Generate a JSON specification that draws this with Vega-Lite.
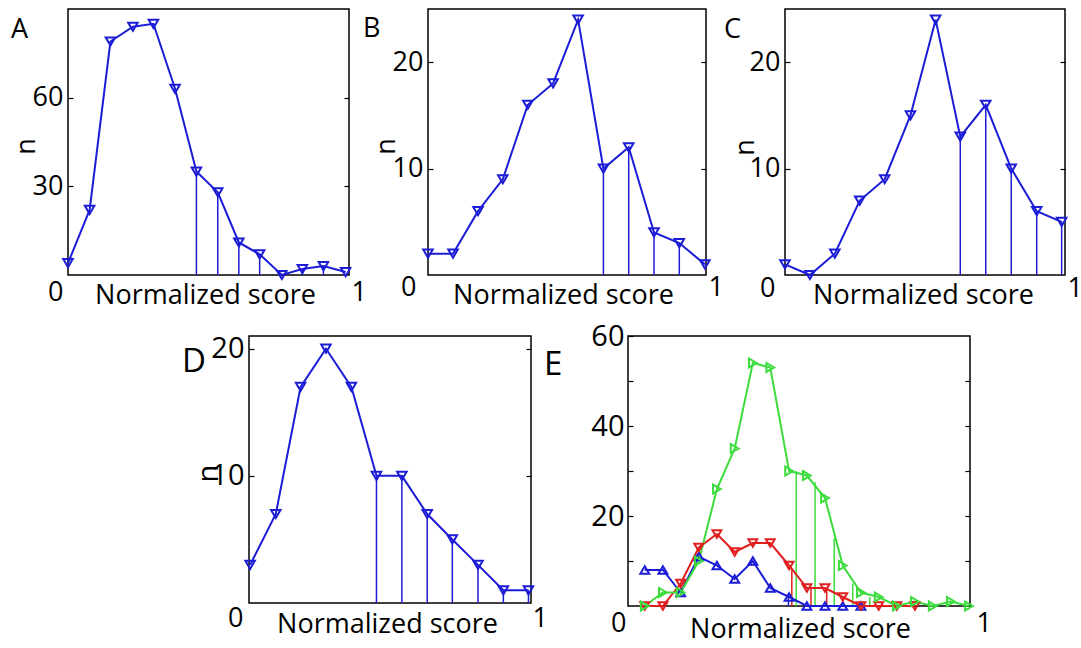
{
  "$schema": "https://vega.github.io/schema/vega-lite/v6.json",
  "autosize": {"type": "pad"},
  "padding": {"left": 10, "top": 8, "right": 0, "bottom": 0},
  "background": "white",
  "config": {
    "font": "Open Sans",
    "view": {"stroke": "black", "strokeWidth": 1.5},
    "axis": {"grid": false, "domain": false, "labelFont": "Open Sans", "titleFont": "Open Sans", "labelColor": "black", "titleColor": "black", "tickColor": "black", "tickWidth": 1.2, "labelFontSize": 27, "titleFontSize": 27, "titleFontWeight": "normal", "labelOverlap": false, "format": "d"},
    "title": {"font": "Open Sans", "fontSize": 27, "fontWeight": "normal", "anchor": "start", "frame": "group", "baseline": "alphabetic", "offset": 0, "color": "black"}
  },
  "datasets": {
    "A": [
      {"x": 0.0, "n": 4}, {"x": 0.077, "n": 22}, {"x": 0.151, "n": 79}, {"x": 0.231, "n": 84},
      {"x": 0.304, "n": 85}, {"x": 0.381, "n": 63}, {"x": 0.457, "n": 35}, {"x": 0.533, "n": 28},
      {"x": 0.608, "n": 11}, {"x": 0.682, "n": 7}, {"x": 0.761, "n": 0}, {"x": 0.834, "n": 2},
      {"x": 0.909, "n": 3}, {"x": 0.988, "n": 1}
    ],
    "Adrop": [
      {"x": 0.457, "n": 35}, {"x": 0.533, "n": 28}, {"x": 0.608, "n": 11}, {"x": 0.682, "n": 7},
      {"x": 0.834, "n": 2}, {"x": 0.909, "n": 3}
    ],
    "B": [
      {"x": 0.0, "n": 2}, {"x": 0.09, "n": 2}, {"x": 0.18, "n": 6}, {"x": 0.269, "n": 9},
      {"x": 0.359, "n": 16}, {"x": 0.45, "n": 18}, {"x": 0.54, "n": 24}, {"x": 0.631, "n": 10},
      {"x": 0.722, "n": 12}, {"x": 0.813, "n": 4}, {"x": 0.904, "n": 3}, {"x": 0.996, "n": 1}
    ],
    "Bdrop": [
      {"x": 0.631, "n": 10}, {"x": 0.722, "n": 12}, {"x": 0.813, "n": 4}, {"x": 0.904, "n": 3}
    ],
    "C": [
      {"x": 0.0, "n": 1}, {"x": 0.089, "n": 0}, {"x": 0.178, "n": 2}, {"x": 0.267, "n": 7},
      {"x": 0.356, "n": 9}, {"x": 0.448, "n": 15}, {"x": 0.538, "n": 24}, {"x": 0.626, "n": 13},
      {"x": 0.717, "n": 16}, {"x": 0.808, "n": 10}, {"x": 0.899, "n": 6}, {"x": 0.988, "n": 5}
    ],
    "Cdrop": [
      {"x": 0.626, "n": 13}, {"x": 0.717, "n": 16}, {"x": 0.808, "n": 10}, {"x": 0.899, "n": 6}, {"x": 0.988, "n": 5}
    ],
    "D": [
      {"x": 0.004, "n": 3}, {"x": 0.095, "n": 7}, {"x": 0.183, "n": 17}, {"x": 0.273, "n": 20},
      {"x": 0.363, "n": 17}, {"x": 0.452, "n": 10}, {"x": 0.542, "n": 10}, {"x": 0.632, "n": 7},
      {"x": 0.721, "n": 5}, {"x": 0.812, "n": 3}, {"x": 0.902, "n": 1}, {"x": 0.991, "n": 1}
    ],
    "Ddrop": [
      {"x": 0.452, "n": 10}, {"x": 0.542, "n": 10}, {"x": 0.632, "n": 7}, {"x": 0.721, "n": 5},
      {"x": 0.812, "n": 3}, {"x": 0.902, "n": 1}, {"x": 0.991, "n": 1}
    ],
    "E": [
      {"s": "blue", "x": 0.049, "n": 8}, {"s": "blue", "x": 0.102, "n": 8}, {"s": "blue", "x": 0.154, "n": 3},
      {"s": "blue", "x": 0.207, "n": 11}, {"s": "blue", "x": 0.26, "n": 9}, {"s": "blue", "x": 0.312, "n": 6},
      {"s": "blue", "x": 0.365, "n": 10}, {"s": "blue", "x": 0.416, "n": 4}, {"s": "blue", "x": 0.471, "n": 2},
      {"s": "blue", "x": 0.523, "n": 0}, {"s": "blue", "x": 0.576, "n": 0}, {"s": "blue", "x": 0.628, "n": 0},
      {"s": "blue", "x": 0.681, "n": 0},
      {"s": "red", "x": 0.049, "n": 0}, {"s": "red", "x": 0.102, "n": 0}, {"s": "red", "x": 0.154, "n": 5},
      {"s": "red", "x": 0.207, "n": 13}, {"s": "red", "x": 0.26, "n": 16}, {"s": "red", "x": 0.312, "n": 12},
      {"s": "red", "x": 0.365, "n": 14}, {"s": "red", "x": 0.416, "n": 14}, {"s": "red", "x": 0.471, "n": 9},
      {"s": "red", "x": 0.523, "n": 4}, {"s": "red", "x": 0.576, "n": 4}, {"s": "red", "x": 0.628, "n": 2},
      {"s": "red", "x": 0.681, "n": 0}, {"s": "red", "x": 0.733, "n": 0}, {"s": "red", "x": 0.786, "n": 0},
      {"s": "red", "x": 0.839, "n": 0},
      {"s": "green", "x": 0.049, "n": 0}, {"s": "green", "x": 0.102, "n": 3}, {"s": "green", "x": 0.154, "n": 3},
      {"s": "green", "x": 0.207, "n": 10}, {"s": "green", "x": 0.26, "n": 26}, {"s": "green", "x": 0.312, "n": 35},
      {"s": "green", "x": 0.365, "n": 54}, {"s": "green", "x": 0.416, "n": 53}, {"s": "green", "x": 0.471, "n": 30},
      {"s": "green", "x": 0.523, "n": 29}, {"s": "green", "x": 0.576, "n": 24}, {"s": "green", "x": 0.628, "n": 9},
      {"s": "green", "x": 0.681, "n": 3}, {"s": "green", "x": 0.733, "n": 2}, {"s": "green", "x": 0.786, "n": 0},
      {"s": "green", "x": 0.839, "n": 1}, {"s": "green", "x": 0.891, "n": 0}, {"s": "green", "x": 0.944, "n": 1},
      {"s": "green", "x": 0.997, "n": 0}
    ],
    "Edrop": [
      {"s": "blue", "x": 0.469, "n": 2.5},
      {"s": "red", "x": 0.479, "n": 8}, {"s": "red", "x": 0.535, "n": 4}, {"s": "red", "x": 0.581, "n": 4},
      {"s": "green", "x": 0.492, "n": 30}, {"s": "green", "x": 0.547, "n": 27.5}, {"s": "green", "x": 0.603, "n": 15},
      {"s": "green", "x": 0.657, "n": 5}, {"s": "green", "x": 0.707, "n": 2}
    ]
  },
  "vconcat": [
    {
      "bounds": "flush",
      "spacing": 79,
      "hconcat": [
        {
          "width": 281, "height": 266,
          "title": {"text": "A", "dx": -57, "dy": 39},
          "encoding": {"x": {"field": "x", "type": "quantitative", "scale": {"domain": [0, 1], "nice": false, "zero": false},
            "axis": {"values": [0, 1], "ticks": false, "labelBaseline": "alphabetic", "labelPadding": 25,
              "labelAlign": {"condition": {"test": "datum.value == 0", "value": "right"}, "value": "left"},
              "labelOffset": {"condition": {"test": "datum.value == 0", "value": -5}, "value": 2},
              "title": "Normalized score", "titleX": 137, "titleY": 28, "titleBaseline": "alphabetic", "titleAlign": "center"}}},
          "layer": [
            {"data": {"name": "Adrop"}, "mark": {"type": "rule", "color": "#1c1cd6", "strokeWidth": 1.5},
             "encoding": {"y": {"field": "n", "type": "quantitative", "scale": {"domain": [0, 90], "nice": false}, "axis": null}, "y2": {"datum": 0}}},
            {"data": {"name": "A"}, "mark": {"type": "line", "color": "#1c1cd6", "strokeWidth": 2},
             "encoding": {"y": {"field": "n", "type": "quantitative", "scale": {"domain": [0, 90], "nice": false},
               "axis": {"values": [30, 60], "tickSize": -5, "labelPadding": 10, "title": "n", "titleX": -42, "titleY": 137, "titleAngle": -90, "titleBaseline": "middle", "titleAlign": "center", "titleFontSize": 27}}}},
            {"data": {"name": "A"}, "mark": {"type": "point", "shape": "triangle-down", "filled": false, "color": "#1c1cd6", "size": 90, "strokeWidth": 2, "opacity": 1},
             "encoding": {"y": {"field": "n", "type": "quantitative", "scale": {"domain": [0, 90], "nice": false},
               "axis": {"orient": "right", "values": [30, 60], "labels": false, "tickSize": -5, "title": null}}}}
          ],
          "resolve": {"axis": {"y": "independent"}}
        },
        {
          "width": 278, "height": 266,
          "title": {"text": "B", "dx": -65, "dy": 38},
          "encoding": {"x": {"field": "x", "type": "quantitative", "scale": {"domain": [0, 1], "nice": false, "zero": false},
            "axis": {"values": [0, 1], "ticks": false, "labelBaseline": "alphabetic", "labelPadding": 20,
              "labelAlign": {"condition": {"test": "datum.value == 0", "value": "right"}, "value": "left"},
              "labelOffset": {"condition": {"test": "datum.value == 0", "value": -12}, "value": 2},
              "title": "Normalized score", "titleX": 135, "titleY": 28, "titleBaseline": "alphabetic", "titleAlign": "center"}}},
          "layer": [
            {"data": {"name": "Bdrop"}, "mark": {"type": "rule", "color": "#1c1cd6", "strokeWidth": 1.5},
             "encoding": {"y": {"field": "n", "type": "quantitative", "scale": {"domain": [0, 25], "nice": false}, "axis": null}, "y2": {"datum": 0}}},
            {"data": {"name": "B"}, "mark": {"type": "line", "color": "#1c1cd6", "strokeWidth": 2},
             "encoding": {"y": {"field": "n", "type": "quantitative", "scale": {"domain": [0, 25], "nice": false},
               "axis": {"values": [10, 20], "tickSize": -5, "labelPadding": 10, "title": "n", "titleX": -42, "titleY": 137, "titleAngle": -90, "titleBaseline": "middle", "titleAlign": "center", "titleFontSize": 27}}}},
            {"data": {"name": "B"}, "mark": {"type": "point", "shape": "triangle-down", "filled": false, "color": "#1c1cd6", "size": 90, "strokeWidth": 2, "opacity": 1},
             "encoding": {"y": {"field": "n", "type": "quantitative", "scale": {"domain": [0, 25], "nice": false},
               "axis": {"orient": "right", "values": [10, 20], "labels": false, "tickSize": -5, "title": null}}}}
          ],
          "resolve": {"axis": {"y": "independent"}}
        },
        {
          "width": 280, "height": 266,
          "title": {"text": "C", "dx": -61, "dy": 39},
          "encoding": {"x": {"field": "x", "type": "quantitative", "scale": {"domain": [0, 1], "nice": false, "zero": false},
            "axis": {"values": [0, 1], "ticks": false, "labelBaseline": "alphabetic", "labelPadding": 21,
              "labelAlign": {"condition": {"test": "datum.value == 0", "value": "right"}, "value": "left"},
              "labelOffset": {"condition": {"test": "datum.value == 0", "value": -10}, "value": 2},
              "title": "Normalized score", "titleX": 138, "titleY": 28, "titleBaseline": "alphabetic", "titleAlign": "center"}}},
          "layer": [
            {"data": {"name": "Cdrop"}, "mark": {"type": "rule", "color": "#1c1cd6", "strokeWidth": 1.5},
             "encoding": {"y": {"field": "n", "type": "quantitative", "scale": {"domain": [0, 25], "nice": false}, "axis": null}, "y2": {"datum": 0}}},
            {"data": {"name": "C"}, "mark": {"type": "line", "color": "#1c1cd6", "strokeWidth": 2},
             "encoding": {"y": {"field": "n", "type": "quantitative", "scale": {"domain": [0, 25], "nice": false},
               "axis": {"values": [10, 20], "tickSize": -5, "labelPadding": 10, "title": "n", "titleX": -40, "titleY": 138, "titleAngle": -90, "titleBaseline": "middle", "titleAlign": "center", "titleFontSize": 27}}}},
            {"data": {"name": "C"}, "mark": {"type": "point", "shape": "triangle-down", "filled": false, "color": "#1c1cd6", "size": 90, "strokeWidth": 2, "opacity": 1},
             "encoding": {"y": {"field": "n", "type": "quantitative", "scale": {"domain": [0, 25], "nice": false},
               "axis": {"orient": "right", "values": [10, 20], "labels": false, "tickSize": -5, "title": null}}}}
          ],
          "resolve": {"axis": {"y": "independent"}}
        }
      ]
    },
    {
      "bounds": "flush",
      "spacing": 97,
      "hconcat": [
        {
          "width": 84, "height": 10,
          "view": {"stroke": null},
          "data": {"values": [{"t": ""}]},
          "mark": {"type": "text"},
          "encoding": {"text": {"field": "t"}}
        },
        {
          "width": 282, "height": 267,
          "title": {"text": "D", "dx": -67, "dy": 48, "fontSize": 33},
          "encoding": {"x": {"field": "x", "type": "quantitative", "scale": {"domain": [0, 1], "nice": false, "zero": false},
            "axis": {"values": [0, 1], "ticks": false, "labelBaseline": "alphabetic", "labelPadding": 23,
              "labelAlign": {"condition": {"test": "datum.value == 0", "value": "right"}, "value": "left"},
              "labelOffset": {"condition": {"test": "datum.value == 0", "value": -6}, "value": 1},
              "title": "Normalized score", "titleX": 138, "titleY": 29, "titleBaseline": "alphabetic", "titleAlign": "center"}}},
          "layer": [
            {"data": {"name": "Ddrop"}, "mark": {"type": "rule", "color": "#1c1cd6", "strokeWidth": 1.5},
             "encoding": {"y": {"field": "n", "type": "quantitative", "scale": {"domain": [0, 21], "nice": false}, "axis": null}, "y2": {"datum": 0}}},
            {"data": {"name": "D"}, "mark": {"type": "line", "color": "#1c1cd6", "strokeWidth": 2},
             "encoding": {"y": {"field": "n", "type": "quantitative", "scale": {"domain": [0, 21], "nice": false},
               "axis": {"values": [10, 20], "tickSize": -5, "labelPadding": 10, "labelFontSize": 29, "title": "n", "titleX": -41, "titleY": 137, "titleAngle": -90, "titleBaseline": "middle", "titleAlign": "center", "titleFontSize": 29}}}},
            {"data": {"name": "D"}, "mark": {"type": "point", "shape": "triangle-down", "filled": false, "color": "#1c1cd6", "size": 90, "strokeWidth": 2, "opacity": 1},
             "encoding": {"y": {"field": "n", "type": "quantitative", "scale": {"domain": [0, 21], "nice": false},
               "axis": {"orient": "right", "values": [10, 20], "labels": false, "tickSize": -5, "title": null}}}}
          ],
          "resolve": {"axis": {"y": "independent"}}
        },
        {
          "width": 342, "height": 270,
          "title": {"text": "E", "dx": -84, "dy": 64, "fontSize": 33},
          "encoding": {"x": {"field": "x", "type": "quantitative", "scale": {"domain": [0, 1], "nice": false, "zero": false},
            "axis": {"values": [0, 1], "ticks": false, "labelBaseline": "alphabetic", "labelPadding": 25,
              "labelAlign": {"condition": {"test": "datum.value == 0", "value": "right"}, "value": "left"},
              "labelOffset": {"condition": {"test": "datum.value == 0", "value": -2}, "value": 6},
              "title": "Normalized score", "titleX": 172, "titleY": 31, "titleBaseline": "alphabetic", "titleAlign": "center"}},
            "color": {"field": "s", "type": "nominal", "scale": {"domain": ["blue", "red", "green"], "range": ["#1c1cd6", "#e01e1e", "#3ddc3d"]}, "legend": null}},
          "layer": [
            {"data": {"name": "Edrop"}, "mark": {"type": "rule", "strokeWidth": 1.5},
             "encoding": {"y": {"field": "n", "type": "quantitative", "scale": {"domain": [0, 60], "nice": false}, "axis": null}, "y2": {"datum": 0}}},
            {"data": {"name": "E"}, "mark": {"type": "line", "strokeWidth": 2},
             "encoding": {"y": {"field": "n", "type": "quantitative", "scale": {"domain": [0, 60], "nice": false},
               "axis": {"values": [10, 20, 30, 40, 50, 60], "labelExpr": "datum.value % 20 == 0 ? datum.label : ''", "tickSize": -5, "labelPadding": 9, "labelFontSize": 29, "title": null}}}},
            {"data": {"name": "E"}, "mark": {"type": "point", "filled": false, "size": 80, "strokeWidth": 2, "opacity": 1},
             "encoding": {"shape": {"field": "s", "type": "nominal", "scale": {"domain": ["blue", "red", "green"], "range": ["triangle-up", "triangle-down", "triangle-right"]}, "legend": null},
               "y": {"field": "n", "type": "quantitative", "scale": {"domain": [0, 60], "nice": false},
               "axis": {"orient": "right", "values": [10, 20, 30, 40, 50], "labels": false, "tickSize": -5, "title": null}}}}
          ],
          "resolve": {"axis": {"y": "independent"}}
        }
      ]
    }
  ],
  "spacing": 12
}
